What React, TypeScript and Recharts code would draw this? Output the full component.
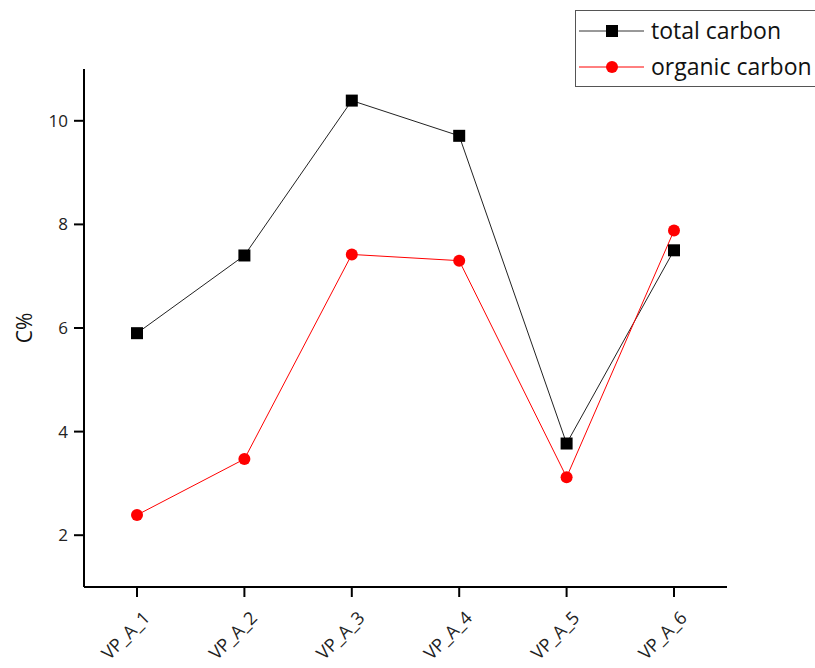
import React from 'react';
import { LineChart, Line, XAxis, YAxis, Label } from 'recharts';

const samples = ['VP_A_1', 'VP_A_2', 'VP_A_3', 'VP_A_4', 'VP_A_5', 'VP_A_6'];
const totalCarbon = [5.9, 7.4, 10.39, 9.71, 3.77, 7.5];
const organicCarbon = [2.39, 3.47, 7.42, 7.3, 3.12, 7.88];
const yTicks = [2, 4, 6, 8, 10];

const data = samples.map((s, i) => ({
  name: s,
  total: totalCarbon[i],
  organic: organicCarbon[i],
}));

const FONT = '"Open Sans", sans-serif';

const SquareDot = (props: any) => {
  const { cx, cy, index } = props;
  if (cx == null || cy == null) return null;
  return <rect key={`sq-${index}`} x={cx - 6} y={cy - 6} width={12} height={12} fill="#000" />;
};

const XTick = (props: any) => {
  const { x, y, payload } = props;
  const tx = x + 14;
  const ty = y + 20;
  return (
    <text
      x={tx}
      y={ty}
      transform={`rotate(-45 ${tx} ${ty})`}
      textAnchor="end"
      fontSize={18}
      fontFamily={FONT}
      fill="#222"
    >
      {payload.value}
    </text>
  );
};

const LegendBox = () => (
  <div
    style={{
      position: 'absolute',
      left: 575,
      top: 10,
      width: 245,
      height: 75,
      border: '1px solid #555',
      background: '#fff',
    }}
  >
    <svg width={245} height={75} style={{ position: 'absolute', left: 0, top: 0 }}>
      <line x1={3} x2={68} y1={20} y2={20} stroke="#333" strokeWidth={1} />
      <rect x={30} y={14} width={12} height={12} fill="#000" />
      <line x1={3} x2={68} y1={56} y2={56} stroke="#ff0000" strokeWidth={1} />
      <circle cx={36} cy={56} r={6} fill="#ff0000" />
      <text x={75} y={28} fontSize={23} fontFamily={FONT} fill="#111">total carbon</text>
      <text x={75} y={64} fontSize={23} fontFamily={FONT} fill="#111">organic carbon</text>
    </svg>
  </div>
);

export default function App() {
  return (
    <div style={{ position: 'absolute', left: 0, top: 0, width: 815, height: 668, background: '#fff' }}>
      <LineChart
        width={815}
        height={668}
        data={data}
        margin={{ top: 69, right: 88, bottom: 0, left: 24 }}
      >
        <XAxis
          dataKey="name"
          type="category"
          padding={{ left: 53, right: 53 }}
          height={81}
          axisLine={{ stroke: '#000', strokeWidth: 2 }}
          tickLine={{ stroke: '#000', strokeWidth: 2 }}
          tickSize={10}
          tick={<XTick />}
          interval={0}
        />
        <YAxis
          type="number"
          domain={[1, 11]}
          ticks={yTicks}
          width={60}
          axisLine={{ stroke: '#000', strokeWidth: 2 }}
          tickLine={{ stroke: '#000', strokeWidth: 2 }}
          tickSize={10}
          tickMargin={6}
          tick={{ fontSize: 17, fontFamily: FONT, fill: '#222' }}
        >
          <Label
            value="C%"
            angle={-90}
            position="insideLeft"
            offset={1}
            style={{ fontSize: 21, fontFamily: FONT, fill: '#111', textAnchor: 'middle' }}
          />
        </YAxis>
        <Line
          dataKey="total"
          stroke="#222"
          strokeWidth={1}
          dot={<SquareDot />}
          activeDot={false}
          isAnimationActive={false}
        />
        <Line
          dataKey="organic"
          stroke="#ff0000"
          strokeWidth={1}
          dot={{ r: 6, fill: '#ff0000', stroke: '#ff0000', strokeWidth: 0 }}
          activeDot={false}
          isAnimationActive={false}
        />
      </LineChart>
      <LegendBox />
    </div>
  );
}
